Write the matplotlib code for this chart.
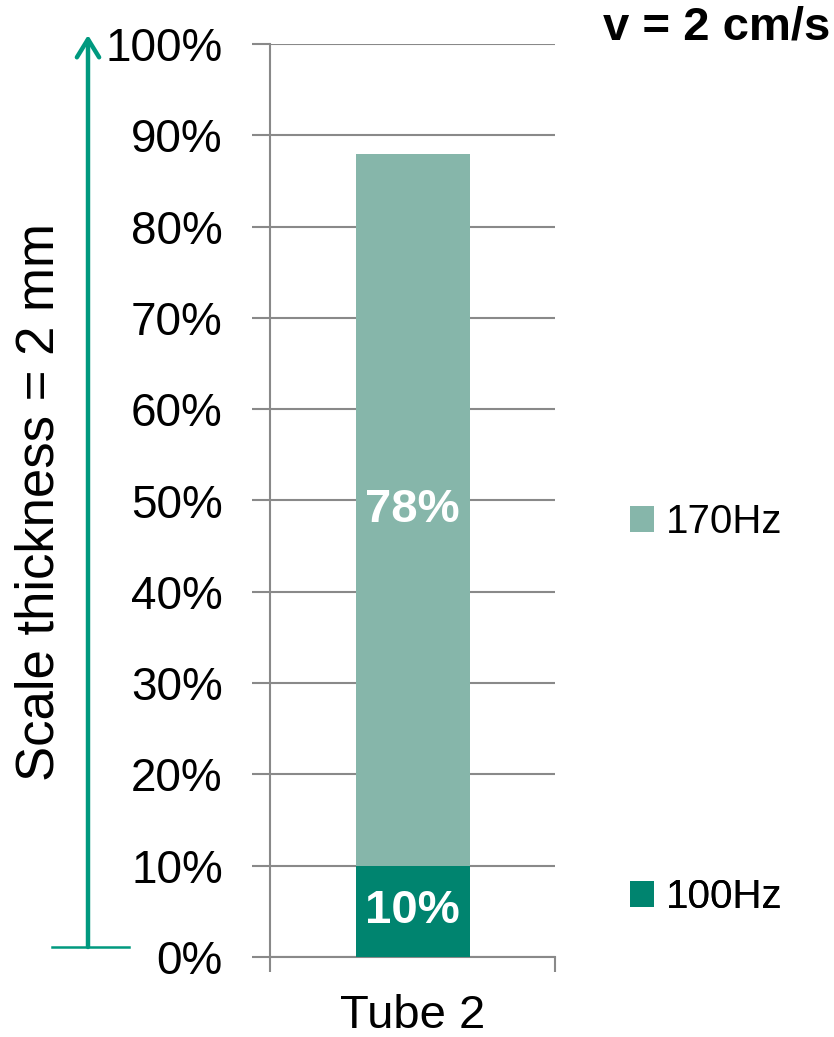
import matplotlib
matplotlib.use("Agg")
import matplotlib.pyplot as plt
from matplotlib.patches import Patch, FancyArrowPatch, ArrowStyle
from matplotlib.lines import Line2D

plt.rcParams["font.family"] = ["Liberation Sans", "DejaVu Sans"]

# Data
categories = ["Tube 2"]
series_names = ["100Hz", "170Hz"]
share_100hz = [10]
share_170hz = [78]
yticks = [0, 10, 20, 30, 40, 50, 60, 70, 80, 90, 100]

c_100 = "#00846F"
c_170 = "#86B6AA"
c_arrow = "#00997F"
c_grid = "#898989"

W, H = 834, 1037
fig = plt.figure(figsize=(W / 100, H / 100), dpi=100)
ax = fig.add_axes([270 / W, 1 - 957 / H, 285 / W, 913 / H])

x = list(range(len(categories)))
ax.bar(x, share_100hz, width=0.4, color=c_100, zorder=3)
ax.bar(x, share_170hz, width=0.4, bottom=share_100hz, color=c_170, zorder=3)

for xi, a, b in zip(x, share_100hz, share_170hz):
    ax.text(xi, a / 2, f"{a}%", ha="center", va="center", color="white",
            fontsize=34, fontweight="bold", zorder=4)
    ax.text(xi, a + b / 2, f"{b}%", ha="center", va="center", color="white",
            fontsize=34, fontweight="bold", zorder=4)

ax.set_xlim(-0.5, 0.5)
ax.set_ylim(0, 100)
ax.set_yticks(yticks)
ax.set_yticklabels([f"{t}%" for t in yticks], fontsize=33)
ax.yaxis.grid(True, color=c_grid, linewidth=1.5, zorder=0)
ax.tick_params(axis="y", length=13, width=1.5, color=c_grid, pad=21)

ax.set_xticks(x)
ax.set_xticklabels(categories, fontsize=34)
ax.set_xticks([-0.5, 0.5], minor=True)
ax.tick_params(axis="x", which="major", length=0, pad=27)
ax.tick_params(axis="x", which="minor", length=11, width=1.5, color=c_grid)

for side in ("top", "right"):
    ax.spines[side].set_visible(False)
for side in ("left", "bottom"):
    ax.spines[side].set_color(c_grid)
    ax.spines[side].set_linewidth(1.5)

# Legend entries placed beside their segments
for name, col, ypix in [("170Hz", c_170, 522), ("100Hz", c_100, 897)]:
    leg = ax.legend(handles=[Patch(facecolor=col, edgecolor="none", label=name)],
                    loc="center left", bbox_to_anchor=(630 / W, 1 - ypix / H),
                    bbox_transform=fig.transFigure, frameon=False, fontsize=29,
                    handlelength=0.6, handleheight=0.6, handletextpad=0.28,
                    borderpad=0, borderaxespad=0)
    ax.add_artist(leg)

# Thickness arrow
arrow = FancyArrowPatch((88 / W, 1 - 947 / H), (88 / W, 1 - 35 / H),
                        transform=fig.transFigure,
                        arrowstyle=ArrowStyle("->", head_length=13, head_width=8),
                        color=c_arrow, linewidth=3.2, shrinkA=0, shrinkB=0,
                        capstyle="round", joinstyle="round")
fig.add_artist(arrow)
fig.add_artist(Line2D([52 / W, 129 / W], [1 - 947 / H, 1 - 947 / H],
                      transform=fig.transFigure, color=c_arrow, linewidth=1.8))

fig.text(40 / W, 1 - 502 / H, "Scale thickness = 2 mm", rotation=90,
         ha="center", va="center", fontsize=38)
fig.text(830 / W, 1 - 28 / H, "v = 2 cm/s", ha="right", va="center",
         fontsize=34, fontweight="bold")

fig.savefig("out.png", dpi=100)
